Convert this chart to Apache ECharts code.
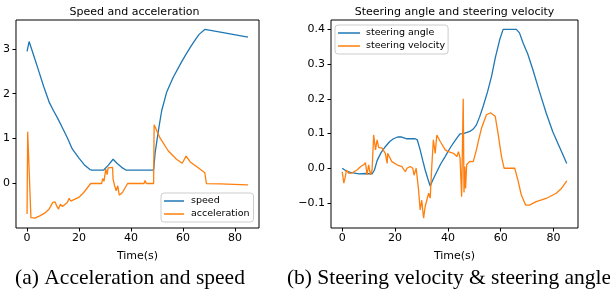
<!DOCTYPE html>
<html>
<head>
<meta charset="utf-8">
<script src="https://cdn.jsdelivr.net/npm/echarts@6/dist/echarts.min.js"></script>
<style>
  html, body { margin: 0; padding: 0; background: #fff; }
  #chart { width: 610px; height: 292px; }
</style>
</head>
<body>
<div id="chart"></div>
<script>
// values, [time (s), value]
const speed = [[0,2.94],[0.8,3.16],[2.5,2.86],[4.3,2.54],[6.4,2.16],[8.6,1.8],[10.2,1.62],[11.8,1.45],[13.6,1.24],[15.5,1.02],[17.4,0.77],[19.9,0.57],[22,0.42],[24.2,0.31],[25,0.3],[29.5,0.3],[31.3,0.41],[33.1,0.54],[34.6,0.45],[36.4,0.36],[38,0.3],[48.7,0.3],[49.3,0.69],[50.6,1.2],[51.8,1.62],[53.7,2.03],[56.2,2.36],[59.3,2.69],[61.2,2.88],[63.1,3.06],[64.7,3.2],[66.2,3.32],[68.4,3.43],[74.4,3.37],[85,3.26]];
const acceleration = [[0,-0.68],[0.25,1.15],[0.75,1.12],[1.5,-0.76],[3,-0.77],[4.9,-0.72],[6.8,-0.66],[8.6,-0.56],[9.9,-0.42],[10.8,-0.41],[11.5,-0.51],[12.1,-0.57],[12.8,-0.46],[13.6,-0.51],[15.5,-0.42],[16.2,-0.33],[16.8,-0.39],[19.9,-0.31],[21.8,-0.2],[24.5,0],[28.7,0],[29.1,0.11],[29.6,0.05],[30.3,0.32],[30.8,0.2],[31.2,0.35],[31.8,0.36],[32.9,0.36],[33.1,0.1],[33.7,-0.05],[34.3,-0.16],[34.9,-0.05],[35.5,-0.26],[36.7,-0.2],[38.7,0],[45,0],[45.4,0.07],[45.9,0],[48.7,0],[48.9,1.31],[51.1,1.02],[54.3,0.73],[57.5,0.54],[59.7,0.45],[61.2,0.61],[62.8,0.48],[65.6,0.36],[68.4,0.24],[69,0.0],[74.4,-0.01],[84.6,-0.03],[85,-0.03]];
const steerAngle = [[0,0],[1.5,-0.008],[3.1,-0.012],[6.3,-0.016],[9,-0.015],[11.3,-0.016],[12.2,-0.005],[13.2,0.022],[14.7,0.045],[16.3,0.062],[18,0.077],[19.4,0.085],[21,0.09],[22.5,0.09],[24.5,0.085],[26,0.085],[27.6,0.085],[28.4,0.082],[29.5,0.053],[30.5,0.022],[31.4,-0.005],[32.4,-0.03],[33.3,-0.051],[34.5,-0.03],[35.8,-0.01],[37.3,0.013],[38.9,0.033],[40.5,0.054],[42,0.072],[43.5,0.088],[44.6,0.099],[45.8,0.1],[47,0.103],[48.3,0.106],[49.6,0.113],[50.8,0.125],[52,0.148],[53.3,0.177],[55,0.22],[56.5,0.264],[58,0.32],[59.6,0.37],[60.9,0.4],[65.9,0.4],[67.1,0.39],[68.5,0.36],[70.2,0.33],[72.2,0.283],[74.7,0.22],[77.2,0.159],[79.7,0.105],[82.2,0.062],[85,0.014]];
const steerVelocity = [[0,-0.01],[0.6,-0.043],[1.0,-0.03],[1.3,-0.019],[1.6,-0.005],[2.5,-0.015],[3.8,-0.013],[5.6,-0.005],[7,0.005],[8.1,0.01],[8.8,0.016],[9.4,-0.019],[10,0.01],[10.7,-0.019],[11.3,-0.005],[11.9,0.096],[12.6,0.053],[13.2,0.082],[13.8,0.06],[15.1,0.058],[16.3,0.043],[17,0.014],[17.2,0.043],[18.8,0.019],[20.7,0.01],[22.6,0.005],[23.9,-0.01],[24.5,0],[25.7,0.005],[26.7,0],[27.2,-0.02],[28,0],[28.9,-0.063],[29.5,-0.12],[30.1,-0.092],[30.8,-0.144],[31.4,-0.11],[32,-0.115],[32.7,-0.072],[33.3,-0.086],[33.9,0.005],[34.5,0.082],[35.2,0.043],[35.8,0.096],[37.1,0.077],[39,0.053],[40.2,0.048],[42.1,0.043],[43.4,0.034],[44,0.048],[44.6,0.03],[45.2,-0.082],[45.8,0.2],[46.1,-0.07],[46.4,0.005],[46.7,-0.058],[47.1,0.01],[48.3,0.02],[49.6,0.019],[50.8,0.053],[51.5,0.077],[52.7,0.115],[54.6,0.154],[56.1,0.16],[57.9,0.15],[59,0.1],[60.3,0.033],[61.3,0],[65.3,0],[66.5,-0.034],[67.8,-0.077],[69.4,-0.106],[70.9,-0.106],[73.4,-0.096],[77.2,-0.087],[81,-0.072],[83,-0.058],[85,-0.036]];

const timeTicks = [0, 20, 40, 60, 80];
const speedTicks = [0, 1, 2, 3];
const steerTicks = [-0.1, 0, 0.1, 0.2, 0.3, 0.4];

const BLUE = '#1f77b4';
const ORANGE = '#ff7f0e';
const FONT = 'DejaVu Sans';

let myChart = echarts.init(document.getElementById('chart'), null, { renderer: 'canvas' });

function xAx(gridIndex) {
  return {
    gridIndex, type: 'value', min: -4.25, max: 89.25,
    name: 'Time(s)', nameLocation: 'middle', nameGap: 23,
    nameTextStyle: { color: '#000', fontFamily: FONT, fontSize: 11 },
    axisLine: { show: false, onZero: false },
    axisTick: { show: true, length: 3.5, lineStyle: { color: '#000' }, customValues: timeTicks },
    axisLabel: { color: '#000', fontFamily: FONT, fontSize: 11, margin: 5, customValues: timeTicks },
    splitLine: { show: false }
  };
}
function yAx(gridIndex, min, max, ticks, fmt) {
  return {
    gridIndex, type: 'value', min, max,
    axisLine: { show: false, onZero: false },
    axisTick: { show: true, length: 3.5, lineStyle: { color: '#000' }, customValues: ticks },
    axisLabel: { color: '#000', fontFamily: FONT, fontSize: 11, margin: 6, customValues: ticks, formatter: fmt },
    splitLine: { show: false }
  };
}
const minus = (s) => s.replace('-', '\u2212');

let option = {
  animation: false,
  grid: [
    { left: 10, top: 20, width: 249, height: 208, show: true, borderColor: '#000', borderWidth: 1 },
    { left: 331, top: 20, width: 247, height: 208, show: true, borderColor: '#000', borderWidth: 1 }
  ],
  xAxis: [xAx(0), xAx(1)],
  yAxis: [
    yAx(0, -0.99, 3.64, speedTicks, (v) => minus(String(Math.round(v)))),
    yAx(1, -0.172, 0.427, steerTicks, (v) => minus(v.toFixed(1)))
  ],
  legend: [
    {
      data: ['speed', 'acceleration'], orient: 'vertical', left: 161, top: 193,
      icon: 'rect', itemWidth: 20, itemHeight: 1.5, itemGap: 1,
      padding: [2, 4, 2, 3], borderColor: '#ccc', borderWidth: 1, borderRadius: 3,
      backgroundColor: 'rgba(255,255,255,0.8)',
      textStyle: { color: '#000', fontFamily: FONT, fontSize: 9.5, lineHeight: 12, padding: [0, 0, 0, 2] }
    },
    {
      data: ['steering angle', 'steering velocity'], orient: 'vertical', left: 335, top: 25,
      icon: 'rect', itemWidth: 22, itemHeight: 1.5, itemGap: 1,
      padding: [2, 3, 2, 3], borderColor: '#ccc', borderWidth: 1, borderRadius: 3,
      backgroundColor: 'rgba(255,255,255,0.8)',
      textStyle: { color: '#000', fontFamily: FONT, fontSize: 9.5, lineHeight: 12, padding: [0, 0, 0, 1] }
    }
  ],
  graphic: [
    { type: 'text', x: 134.5, y: 12.5, style: { text: 'Speed and acceleration', fill: '#000', font: '11px "DejaVu Sans"', textAlign: 'center', textVerticalAlign: 'middle' } },
    { type: 'text', x: 454.5, y: 12.5, style: { text: 'Steering angle and steering velocity', fill: '#000', font: '11px "DejaVu Sans"', textAlign: 'center', textVerticalAlign: 'middle' } },
    { type: 'text', x: 130, y: 278, style: { text: '(a) Acceleration and speed', fill: '#000', font: '21.5px "Liberation Serif"', textAlign: 'center', textVerticalAlign: 'middle' } },
    { type: 'text', x: 449, y: 278, style: { text: '(b) Steering velocity & steering angle', fill: '#000', font: '21.5px "Liberation Serif"', textAlign: 'center', textVerticalAlign: 'middle' } }
  ],
  series: [
    { name: 'speed', type: 'line', xAxisIndex: 0, yAxisIndex: 0, data: speed, showSymbol: false, symbol: 'none', color: BLUE, lineStyle: { width: 1.3 } },
    { name: 'acceleration', type: 'line', xAxisIndex: 0, yAxisIndex: 0, data: acceleration, showSymbol: false, symbol: 'none', color: ORANGE, lineStyle: { width: 1.3 } },
    { name: 'steering angle', type: 'line', xAxisIndex: 1, yAxisIndex: 1, data: steerAngle, showSymbol: false, symbol: 'none', color: BLUE, lineStyle: { width: 1.3 } },
    { name: 'steering velocity', type: 'line', xAxisIndex: 1, yAxisIndex: 1, data: steerVelocity, showSymbol: false, symbol: 'none', color: ORANGE, lineStyle: { width: 1.3 } }
  ]
};

option && myChart.setOption(option);
</script>
</body>
</html>
